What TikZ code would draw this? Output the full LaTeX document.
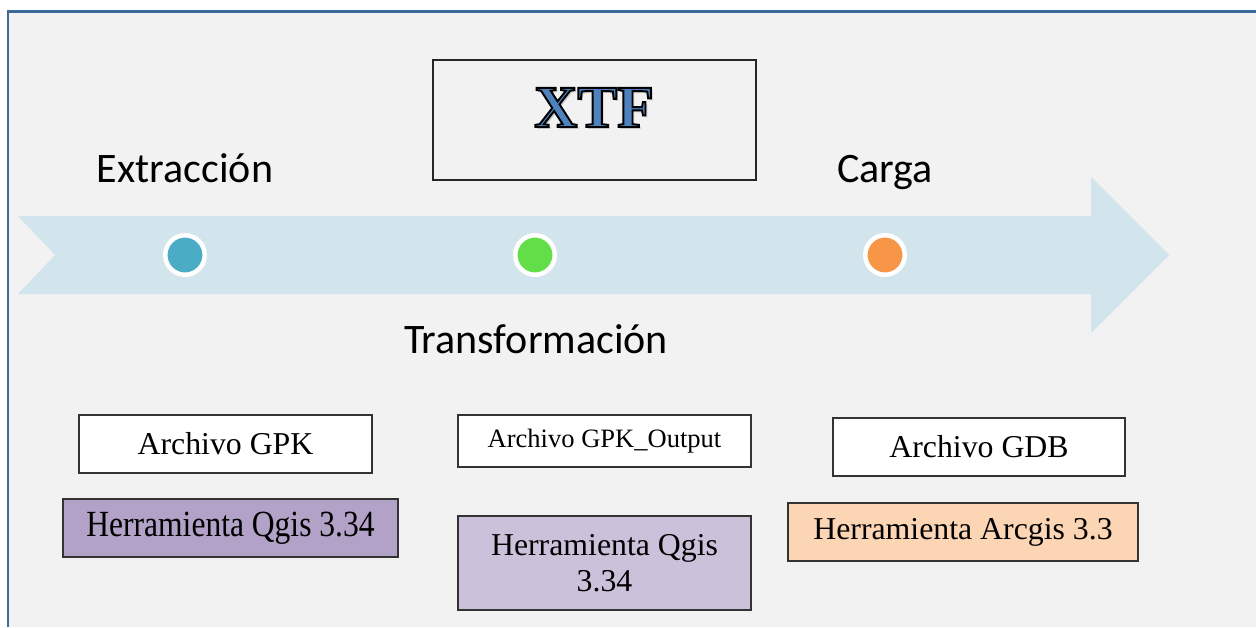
\documentclass[tikz,border=0pt]{standalone}
\usepackage{fontspec}
\setmainfont{Liberation Serif}
\newfontfamily\labelfont{Carlito}
\usetikzlibrary{positioning}
\usepackage{graphicx}
\usepackage{xcolor}
\definecolor{frameblue}{HTML}{3E6A9A}
\definecolor{panel}{HTML}{F2F2F2}
\definecolor{flowblue}{HTML}{D2E4EC}
\definecolor{xtfblue}{HTML}{4F81BD}
\definecolor{dotblue}{HTML}{4BACC6}
\definecolor{dotgreen}{HTML}{62DF48}
\definecolor{dotorange}{HTML}{F79646}
\definecolor{toolA}{HTML}{B3A2C7}
\definecolor{toolB}{HTML}{CCC1DA}
\definecolor{toolC}{HTML}{FCD5B5}
% outlined letters: fill plus black stroke
\newcommand{\outlined}[1]{\special{pdf:code q 2 Tr 1.1 w 0 0 0 RG}#1\special{pdf:code Q}}

\begin{document}
\begin{tikzpicture}[x=0.02cm,y=-0.02cm,%
		   stage/.style={font=\labelfont\fontsize{23.9}{28}\selectfont,anchor=base,inner sep=0pt},
		   dot/.style={circle,draw=white,line width=2.55pt,minimum size=0.79cm,inner sep=0pt},
		   filebox/.style={draw=black!80,line width=0.85pt,fill=white,inner sep=0pt,font=\fontsize{18.1}{21}\selectfont},
		   toolbox/.style={filebox,align=center},
		   xtf/.style={font=\bfseries\fontsize{34}{40}\selectfont,anchor=base,inner sep=0pt}]

	\useasboundingbox (0,0) rectangle (1256,627);
	\fill[white] (0,0) rectangle (1256,627);
	% panel and its blue frame
	\fill[panel] (8,11) rectangle (1256,627);
	\draw[frameblue,line width=1.7pt] (8,627) -- (8,11) -- (1256,11);

	% process arrow
	\fill[flowblue] (18,216) -- (1091,216) -- (1091,177) -- (1169,255)
	    -- (1091,333) -- (1091,294) -- (18,294) -- (55,255) -- cycle;

	% title box
	\node[draw=black!85,line width=0.85pt,fill=panel,minimum width=6.46cm,
	      minimum height=2.4cm,inner sep=0pt] (title) at (594.5,120) {};
	\node[xtf,text=black!22] (xtf-shadow) at (596.5,129.5) {XTF};
	\node[xtf,text=xtfblue] (xtf) at (594,127) {\outlined{XTF}};

	% stages along the arrow
	\foreach \x/\col/\name in {185/dotblue/ext,535/dotgreen/tra,885/dotorange/car}
	    \node[dot,fill=\col] (\name) at (\x,255) {};
	\node[stage] (ext-l) at (185,182) {Extracción};
	\node[stage] (tra-l) at (536,353) {Transformación};
	\node[stage] (car-l) at (885,182) {Carga};

	% files and tools
	\node[filebox,minimum width=5.86cm,minimum height=1.16cm] (gpk) at (225.5,444) {Archivo GPK};
	\node[toolbox,fill=toolA,minimum width=6.7cm,minimum height=1.16cm,
	      font=\fontsize{21}{24}\selectfont] (qgis1) at (230.5,528) {\scalebox{0.855}[1]{Herramienta Qgis 3.34}};
	\node[filebox,minimum width=5.86cm,minimum height=1.04cm,font=\fontsize{15.1}{18}\selectfont] (gpkout) at (604.5,441) {Archivo GPK\_Output};
	\node[toolbox,fill=toolB,minimum width=5.86cm,minimum height=1.88cm,
	      font=\fontsize{18.1}{20.4}\selectfont] (qgis2) at (604.5,563) {Herramienta Qgis\\3.34};
	\node[filebox,minimum width=5.84cm,minimum height=1.16cm] (gdb) at (979,447) {Archivo GDB};
	\node[toolbox,fill=toolC,minimum width=7cm,minimum height=1.16cm] (arcgis) at (963,532) {Herramienta Arcgis 3.3};
\end{tikzpicture}
\end{document}
